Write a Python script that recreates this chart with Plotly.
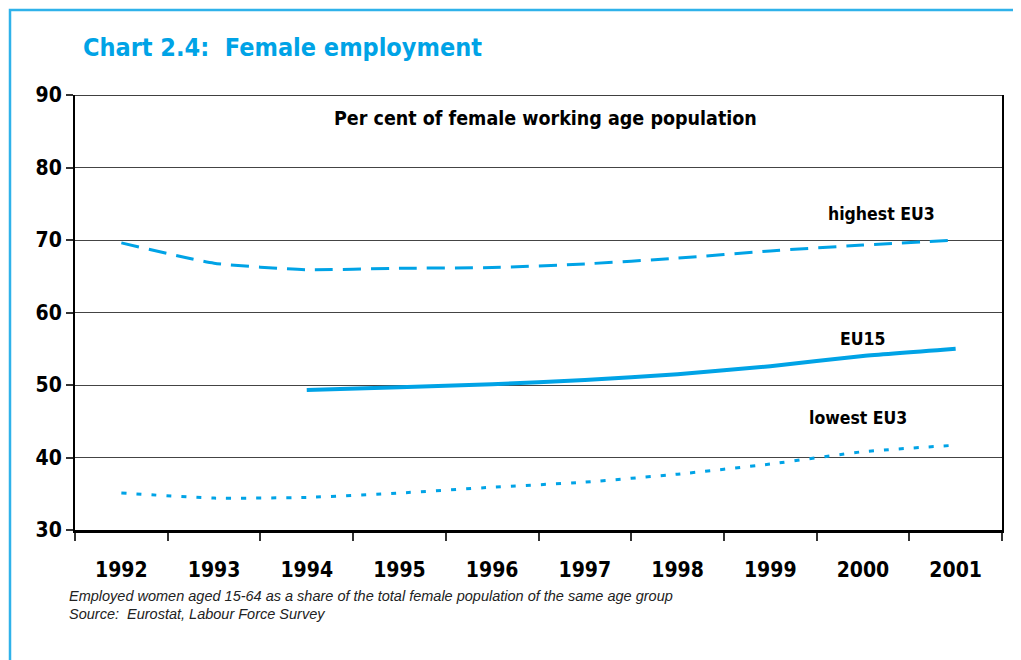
import plotly.graph_objects as go

years = ["1992", "1993", "1994", "1995", "1996", "1997", "1998", "1999", "2000", "2001"]
highest_eu3 = [69.6, 66.8, 65.9, 66.1, 66.2, 66.7, 67.5, 68.5, 69.3, 70.0]
eu15_years = ["1994", "1995", "1996", "1997", "1998", "1999", "2000", "2001"]
eu15 = [49.3, 49.7, 50.1, 50.7, 51.5, 52.6, 54.0, 55.0]
lowest_eu3 = [35.1, 34.4, 34.5, 35.1, 35.9, 36.6, 37.7, 39.1, 40.8, 41.7]
y_ticks = [30, 40, 50, 60, 70, 80, 90]

blue = "#00A3E6"
cond = "Liberation Sans Narrow, Arial Narrow, DejaVu Sans Condensed, sans-serif"

# page has an 8px body margin, so the figure is drawn 8px in from the corner
W, H = 1013, 652
L, T, R, B = 67, 87, 19, 130
pw, ph = W - L - R, H - T - B

fig = go.Figure()
fig.add_trace(go.Scatter(x=years, y=highest_eu3, mode="lines", name="highest EU3",
                         line=dict(color=blue, width=3, dash="18px,10px", shape="spline", smoothing=0.5)))
fig.add_trace(go.Scatter(x=eu15_years, y=eu15, mode="lines", name="EU15",
                         line=dict(color=blue, width=4, shape="spline", smoothing=0.5)))
fig.add_trace(go.Scatter(x=years, y=lowest_eu3, mode="lines", name="lowest EU3",
                         line=dict(color=blue, width=3, dash="5px,10px", shape="spline", smoothing=0.5)))

fig.update_layout(
    width=W, height=H,
    margin=dict(l=L, r=R, t=T, b=B),
    paper_bgcolor="white", plot_bgcolor="white",
    showlegend=False,
    title=dict(text="<b>Chart 2.4:  Female employment</b>", x=75/W, xanchor="left",
               y=1-39/H, yanchor="middle",
               font=dict(family=cond, size=25, color=blue)),
    xaxis=dict(type="category", categoryorder="array", categoryarray=years,
               range=[-0.5, 9.5],
               tickson="boundaries", ticks="outside", ticklen=8, tickwidth=1.5, tickcolor="#333",
               showgrid=False, showline=True, linecolor="black", linewidth=3,
               ticklabelstandoff=19,
               tickfont=dict(family=cond, size=21, color="black", weight="bold")),
    yaxis=dict(range=[30, 90], tickvals=y_ticks, ticks="outside", ticklen=7, tickwidth=1.5,
               tickcolor="#333", showline=True, linecolor="black", linewidth=2, mirror=True,
               showgrid=True, gridcolor="#444", gridwidth=1.3, zeroline=False,
               tickfont=dict(family=cond, size=21, color="black", weight="bold")),
    shapes=[
        dict(type="line", xref="paper", yref="y", x0=0, x1=1, y0=90, y1=90,
             line=dict(color="black", width=1.5)),
        dict(type="rect", xref="paper", yref="paper", x0=(2-L)/pw, x1=(1012-L)/pw,
             y0=(H-B-680)/ph, y1=(H-B-2)/ph, line=dict(color="#2FB2EA", width=2.5),
             layer="below"),
    ],
    annotations=[
        dict(text="<b>Per cent of female working age population</b>", xref="paper", yref="y",
             x=0.508, y=86.8, showarrow=False, font=dict(family=cond, size=19.5, color="black")),
        dict(text="<b>highest EU3</b>", xref="x", yref="y", x=8.2, y=73.6, showarrow=False,
             font=dict(family=cond, size=17.5, color="black")),
        dict(text="<b>EU15</b>", xref="x", yref="y", x=8.0, y=56.3, showarrow=False,
             font=dict(family=cond, size=17.5, color="black")),
        dict(text="<b>lowest EU3</b>", xref="x", yref="y", x=7.95, y=45.5, showarrow=False,
             font=dict(family=cond, size=17.5, color="black")),
        dict(text="<i>Employed women aged 15-64 as a share of the total female population of the same age group</i>",
             xref="paper", yref="paper", x=(59-L)/pw, y=(H-B-588)/ph, xanchor="left", yanchor="middle",
             showarrow=False, font=dict(family="Liberation Sans, Arial, sans-serif", size=14.5, color="#222")),
        dict(text="<i>Source:  Eurostat, Labour Force Survey</i>",
             xref="paper", yref="paper", x=(59-L)/pw, y=(H-B-606)/ph, xanchor="left", yanchor="middle",
             showarrow=False, font=dict(family="Liberation Sans, Arial, sans-serif", size=14.5, color="#222")),
    ],
)

fig.write_html("out.html")
